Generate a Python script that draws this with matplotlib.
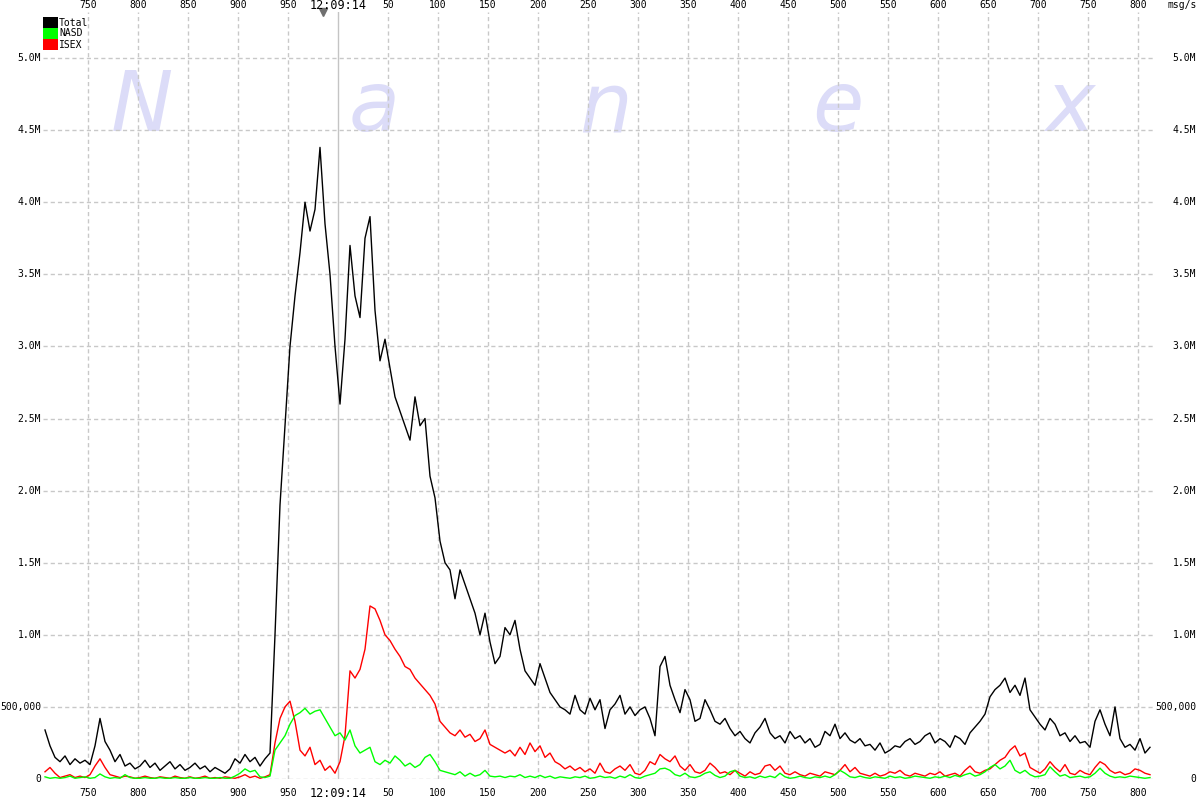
import numpy as np
import matplotlib
matplotlib.use("Agg")
import matplotlib.pyplot as plt
from matplotlib.patches import Rectangle
from matplotlib.transforms import blended_transform_factory

# time axis: milliseconds (1000 = 12:09:14.000), 5 ms buckets
t_start, t_step = 707, 5

# messages per second, thousands
total_k = [
    340, 230, 150, 120, 160, 100, 140, 110, 130, 100,
    230, 420, 260, 200, 120, 170, 90, 110, 70, 90,
    130, 80, 110, 60, 90, 120, 70, 100, 60, 80,
    110, 70, 90, 50, 80, 60, 40, 70, 140, 110,
    170, 120, 150, 90, 140, 180, 1000, 1900, 2450, 3000,
    3350, 3650, 4000, 3800, 3950, 4380, 3850, 3500, 3000, 2600,
    3050, 3700, 3350, 3200, 3750, 3900, 3250, 2900, 3050, 2850,
    2650, 2550, 2450, 2350, 2650, 2450, 2500, 2100, 1950, 1650,
    1500, 1450, 1250, 1450, 1350, 1250, 1150, 1000, 1150, 950,
    800, 850, 1050, 1000, 1100, 900, 750, 700, 650, 800,
    700, 600, 550, 500, 480, 450, 580, 480, 450, 560,
    480, 550, 350, 480, 520, 580, 450, 500, 440, 480,
    500, 420, 300, 780, 850, 650, 550, 460, 620, 550,
    400, 420, 550, 480, 400, 380, 420, 350, 300, 330,
    280, 250, 320, 360, 420, 320, 280, 300, 250, 330,
    280, 300, 250, 280, 220, 240, 330, 300, 380, 280,
    320, 270, 250, 280, 230, 240, 200, 250, 180, 200,
    230, 220, 260, 280, 240, 260, 300, 320, 250, 280,
    260, 220, 300, 280, 240, 320, 360, 400, 450, 570,
    620, 650, 700, 600, 650, 580, 700, 480, 430, 380,
    340, 420, 380, 300, 320, 260, 300, 250, 260, 220,
    400, 480, 380, 300, 500, 280, 220, 240, 200, 280,
    180, 220,
]

nasd_k = [
    15, 5, 10, 5, 10, 20, 5, 10, 15, 5,
    10, 35, 15, 5, 10, 5, 30, 10, 5, 5,
    10, 5, 5, 10, 5, 5, 10, 5, 5, 10,
    5, 5, 10, 5, 5, 10, 5, 5, 20, 40,
    70, 50, 60, 15, 10, 20, 200, 250, 300, 380,
    440, 460, 490, 450, 470, 480, 420, 360, 300, 320,
    270, 340, 230, 180, 200, 220, 120, 100, 130, 110,
    160, 130, 90, 110, 80, 100, 150, 170, 120, 60,
    50, 40, 30, 50, 20, 40, 20, 30, 60, 20,
    15, 20, 10, 20, 15, 30, 10, 20, 10, 25,
    10, 20, 5, 15, 10, 5, 15, 10, 20, 5,
    10, 20, 10, 15, 5, 20, 10, 30, 10, 5,
    20, 30, 40, 70, 75, 60, 30, 20, 40, 15,
    10, 20, 40, 50, 25, 10, 20, 50, 60, 20,
    10, 15, 5, 20, 10, 20, 10, 40, 15, 5,
    10, 20, 10, 5, 15, 10, 20, 10, 30, 60,
    40, 15, 10, 20, 10, 5, 15, 10, 5, 20,
    10, 15, 5, 10, 20, 15, 10, 5, 15, 10,
    20, 10, 25, 15, 30, 40, 20, 30, 50, 80,
    100, 70, 90, 130, 60, 40, 60, 30, 15, 20,
    30, 85, 50, 20, 30, 10, 15, 20, 10, 15,
    40, 75, 40, 20, 10, 15, 10, 20, 15, 10,
    5, 10,
]

isex_k = [
    50, 80, 40, 10, 20, 30, 10, 20, 10, 30,
    90, 140, 80, 30, 20, 10, 20, 15, 5, 10,
    20, 10, 5, 15, 10, 5, 20, 10, 5, 15,
    5, 10, 20, 5, 10, 5, 15, 10, 5, 15,
    30, 10, 20, 5, 15, 30, 250, 420, 500, 540,
    400, 200, 160, 220, 100, 130, 60, 90, 40, 120,
    300, 750, 700, 760, 900, 1200, 1180, 1100, 1000, 960,
    900, 850, 780, 760, 700, 660, 620, 580, 520, 400,
    360, 320, 300, 340, 290, 310, 260, 280, 340, 240,
    220, 200, 180, 200, 160, 220, 170, 250, 190, 230,
    150, 180, 120, 100, 70, 90, 60, 80, 50, 70,
    40, 110, 50, 40, 70, 90, 60, 100, 40, 30,
    60, 120, 100, 170, 140, 120, 160, 90, 60, 100,
    50, 40, 60, 110, 80, 40, 50, 30, 60, 40,
    20, 50, 30, 40, 90, 100, 60, 90, 40, 30,
    50, 30, 20, 40, 30, 20, 50, 40, 30, 60,
    100, 50, 80, 40, 30, 20, 40, 20, 30, 50,
    40, 60, 30, 20, 40, 30, 20, 40, 30, 50,
    20, 30, 40, 20, 60, 90, 50, 40, 60, 70,
    100, 130, 150, 200, 230, 160, 180, 80, 60, 40,
    70, 120, 80, 50, 100, 40, 30, 60, 40, 30,
    80, 120, 100, 60, 40, 50, 30, 40, 70, 60,
    40, 30,
]

x_ticks = list(range(750, 1801, 50))
y_ticks = [0, 500000, 1000000, 1500000, 2000000, 2500000, 3000000,
           3500000, 4000000, 4500000, 5000000]
series_names = ["Total", "NASD", "ISEX"]
series_colors = ["#000000", "#00ff00", "#ff0000"]
watermark = ["N", "a", "n", "e", "x"]

t = t_start + t_step * np.arange(len(total_k))
total = np.array(total_k) * 1000.0
nasd = np.array(nasd_k) * 1000.0
isex = np.array(isex_k) * 1000.0

W, H = 1200, 800
fig = plt.figure(figsize=(12, 8), dpi=100)
fig.patch.set_facecolor("white")
ax_l, ax_r, ax_top, ax_bot = 43, 1155, 12, 779
ax = fig.add_axes([ax_l / W, 1 - ax_bot / H, (ax_r - ax_l) / W, (ax_bot - ax_top) / H])
ax.set_xlim(705, 1817)
ax.set_ylim(0, 5.0e6 * (ax_bot - ax_top) / (ax_bot - 58))
for s in ax.spines.values():
    s.set_visible(False)
ax.set_xticks([])
ax.set_yticks([])

mono = "DejaVu Sans Mono"
grid_kw = dict(color="#c8c8c8", lw=1.0, ls=(0, (3, 2.2)), zorder=1)
for yv in y_ticks:
    ax.axhline(yv, **grid_kw)
for xv in x_ticks:
    if xv == 1000:
        ax.axvline(xv, color="#c4c4c4", lw=1.0, zorder=1)
    else:
        ax.axvline(xv, **grid_kw)

# watermark
for i, ch in enumerate(watermark):
    px = 142 + i * 232
    ax.text((px - ax_l) / (ax_r - ax_l), (ax_bot - 131) / (ax_bot - ax_top), ch,
            transform=ax.transAxes, ha="center", va="baseline",
            fontsize=60, style="italic", family="DejaVu Sans",
            color="#dcdcf8", zorder=0.5)

ax.plot(t, total, color=series_colors[0], lw=1.0, zorder=3)
ax.plot(t, isex, color=series_colors[2], lw=1.0, zorder=4)
ax.plot(t, nasd, color=series_colors[1], lw=1.0, zorder=5)

# x tick labels top & bottom
def xlab(v):
    if v < 1000:
        return str(v)
    if v == 1000:
        return "12:09:14"
    return str(v - 1000)

trx = blended_transform_factory(ax.transData, fig.transFigure)
for v in x_ticks:
    big = v == 1000
    fs = 8.5 if big else 7
    for ypix in (5.5, 793.5):
        fig.text(v, 1 - ypix / H, xlab(v), transform=trx, ha="center",
                 va="center", family=mono, fontsize=fs)

def ylab(v):
    if v == 0:
        return "0"
    if v == 500000:
        return "500,000"
    return f"{v / 1e6:.1f}M"

tr = blended_transform_factory(fig.transFigure, ax.transData)
for v in y_ticks:
    fig.text(41 / W, v, ylab(v), transform=tr, ha="right", va="center",
             family=mono, fontsize=7)
    fig.text(1196 / W, v, ylab(v), transform=tr, ha="right", va="center",
             family=mono, fontsize=7)

fig.text(1197 / W, 1 - 5.5 / H, "msg/s", ha="right", va="center", family=mono, fontsize=7)

# time marker pin
ax.plot([985], [ax.get_ylim()[1]], marker="v", color="#707070", markersize=6,
        clip_on=False, zorder=6)

# legend
for i, (name, col) in enumerate(zip(series_names, series_colors)):
    y0 = 17 + i * 11
    fig.patches.append(Rectangle((43 / W, 1 - (y0 + 11) / H), 15 / W, 11 / H,
                                 transform=fig.transFigure, facecolor=col,
                                 edgecolor="none"))
    fig.text(59 / W, 1 - (y0 + 5.5) / H, name, ha="left", va="center",
             family=mono, fontsize=7)

fig.savefig("out.png", dpi=100, facecolor="white")
